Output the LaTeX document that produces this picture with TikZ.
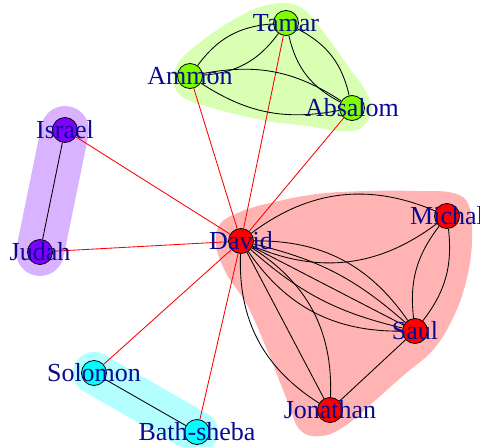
\documentclass[tikz,border=0pt]{standalone}
\usepackage{fontspec}
\setmainfont{Liberation Serif}
\definecolor{hullred}{RGB}{255,179,179}
\definecolor{hullgreen}{RGB}{217,255,179}
\definecolor{hullcyan}{RGB}{179,255,255}
\definecolor{hullpurple}{RGB}{217,179,255}
\definecolor{vred}{RGB}{255,0,0}
\definecolor{vgreen}{RGB}{128,255,0}
\definecolor{vcyan}{RGB}{0,255,255}
\definecolor{vpurple}{RGB}{128,0,255}
\definecolor{lblue}{RGB}{10,10,145}
\tikzset{
  vertex/.style={circle, draw=black, line width=0.8pt, minimum size=25pt, inner sep=0pt},
  lbl/.style={font=\fontsize{26}{26}\selectfont, text=lblue, inner sep=0pt},
  kin/.style={black, line width=0.85pt},
  tie/.style={red, line width=0.85pt},
}
\begin{document}
\begin{tikzpicture}[x=1pt,y=-1pt]
\useasboundingbox (0,0) rectangle (480,447);
\clip (0,0) rectangle (480,447);
% positions
\coordinate (pTamar) at (286,23);
\coordinate (pAmmon) at (190,76);
\coordinate (pAbsalom) at (352,108);
\coordinate (pIsrael) at (65,130);
\coordinate (pJudah) at (40,252);
\coordinate (pDavid) at (241,241);
\coordinate (pMichal) at (447,216);
\coordinate (pSaul) at (415,331);
\coordinate (pJonathan) at (330,410);
\coordinate (pSolomon) at (94,373);
\coordinate (pBath) at (197,432);
% group hulls
\fill[hullred] plot[smooth cycle, tension=0.65] coordinates {
 (216,245) (220,224) (240,212) (270,203) (317,194) (367,191) (417,191) (453,193)
 (469,206) (472,242) (466,282) (453,318) (433,350) (405,374) (370,405) (345,426)
 (322,436) (300,430) (287,400) (268,352) (247,305) (226,273)};
\fill[hullgreen] plot[smooth cycle, tension=0.6] coordinates {
 (287,3) (260,7) (233,20) (207,37) (183,57) (174,73) (176,90) (190,101) (223,111)
 (267,121) (307,126) (340,131) (361,128) (372,110) (365,90) (348,66) (328,38) (307,12)};
\draw[hullpurple, line width=48pt, line cap=round] (pIsrael) -- (pJudah);
\draw[hullcyan, line width=42pt, line cap=round] (pSolomon) -- (pBath);
% vertices
\node[vertex, fill=vgreen] (Tamar) at (pTamar) {};
\node[vertex, fill=vgreen] (Ammon) at (pAmmon) {};
\node[vertex, fill=vgreen] (Absalom) at (pAbsalom) {};
\node[vertex, fill=vpurple] (Israel) at (pIsrael) {};
\node[vertex, fill=vpurple] (Judah) at (pJudah) {};
\node[vertex, fill=vred] (David) at (pDavid) {};
\node[vertex, fill=vred] (Michal) at (pMichal) {};
\node[vertex, fill=vred] (Saul) at (pSaul) {};
\node[vertex, fill=vred] (Jonathan) at (pJonathan) {};
\node[vertex, fill=vcyan] (Solomon) at (pSolomon) {};
\node[vertex, fill=vcyan] (Bath) at (pBath) {};
% edges between groups
\draw[tie] (David) -- (Israel);
\draw[tie] (David) -- (Judah);
\draw[tie] (David) -- (Ammon);
\draw[tie] (David) -- (Tamar);
\draw[tie] (David) -- (Absalom);
\draw[tie] (David) -- (Solomon);
\draw[tie] (David) -- (Bath);
% edges within groups
\draw[kin] (Tamar) to[bend left=25] (Ammon);
\draw[kin] (Tamar) to[bend right=25] (Ammon);
\draw[kin] (Tamar) to[bend left=25] (Absalom);
\draw[kin] (Tamar) to[bend right=25] (Absalom);
\draw[kin] (Ammon) to[bend left=22] (Absalom);
\draw[kin] (Ammon) to[bend right=22] (Absalom);
\draw[kin] (Israel) -- (Judah);
\draw[kin] (Solomon) -- (Bath);
\draw[kin] (David) to[bend left=30] (Michal);
\draw[kin] (David) to[bend right=30] (Michal);
\draw[kin] (Michal) to[bend left=22] (Saul);
\draw[kin] (Michal) to[bend right=22] (Saul);
\draw[kin] (David) to[bend left=28] (Saul);
\draw[kin] (David) to[bend left=14] (Saul);
\draw[kin] (David) -- (Saul);
\draw[kin] (David) to[bend right=14] (Saul);
\draw[kin] (David) to[bend right=28] (Saul);
\draw[kin] (David) to[bend left=30] (Jonathan);
\draw[kin] (David) -- (Jonathan);
\draw[kin] (David) to[bend right=30] (Jonathan);
\draw[kin] (Saul) -- (Jonathan);
% labels
\node[lbl] (lTamar) at (pTamar) {Tamar};
\node[lbl] (lAmmon) at (pAmmon) {Ammon};
\node[lbl] (lAbsalom) at (pAbsalom) {Absalom};
\node[lbl] (lIsrael) at (pIsrael) {Israel};
\node[lbl] (lJudah) at (pJudah) {Judah};
\node[lbl] (lDavid) at (pDavid) {David};
\node[lbl] (lMichal) at (pMichal) {Michal};
\node[lbl] (lSaul) at (pSaul) {Saul};
\node[lbl] (lJonathan) at (pJonathan) {Jonathan};
\node[lbl] (lSolomon) at (pSolomon) {Solomon};
\node[lbl] (lBath) at (pBath) {Bath-sheba};
\end{tikzpicture}
\end{document}
